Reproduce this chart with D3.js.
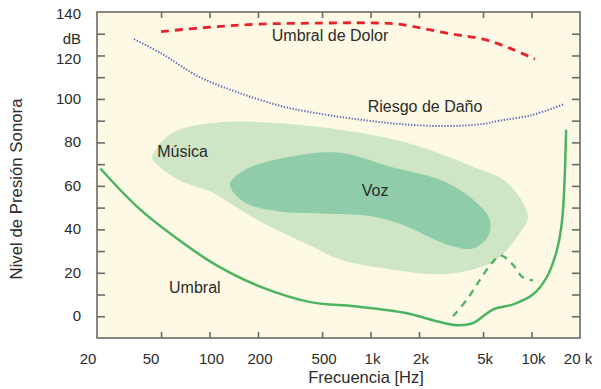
<!DOCTYPE html>
<html>
<head>
<meta charset="utf-8">
<script src="https://cdn.jsdelivr.net/npm/d3@7"></script>
<style>
  html, body { margin: 0; padding: 0; background: #ffffff; }
  svg { display: block; font-family: "Liberation Sans", Arial, sans-serif; }
</style>
</head>
<body>
<svg id="chart" width="601" height="389"></svg>
<script>
// ---- data (frequency in Hz, level in dB) ----
const xTickValues = [20, 50, 100, 200, 500, 1000, 2000, 5000, 10000, 20000];
const xTickLabels = ["20", "50", "100", "200", "500", "1k", "2k", "5k", "10k", "20 k"];
const yTickLabels = [0, 20, 40, 60, 80, 100, 120, 140];
const yMinorTicks = [0, 10, 20, 30, 40, 50, 60, 70, 80, 90, 100, 110, 120, 130];

const painFreq  = [50, 100, 200, 500, 1000, 1500, 3100, 5000, 7300, 10500];
const painDb    = [131, 133, 134.4, 134.9, 135, 134.4, 130, 127.5, 123.4, 118.3];

const riskFreq  = [34, 50, 87, 150, 286, 500, 860, 1500, 3000, 5000, 6300, 10000, 15700];
const riskDb    = [127.5, 121, 110, 103, 96.5, 93, 90.5, 88.5, 87.5, 88.5, 90, 92.5, 97.5];

const thrFreq   = [21, 36, 64, 108, 212, 432, 800, 1680, 2440, 3440, 4300, 5800, 7700, 10200, 12500, 14400, 15500, 16400];
const thrDb     = [68, 50, 35.3, 23.9, 13.3, 6.4, 4.6, 1.4, -1.8, -4.1, -3.2, 3.2, 5.5, 10, 18.3, 30.7, 44.5, 85.8];

const altFreq   = [3250, 4000, 4800, 5600, 6400, 7600, 8800, 10200];
const altDb     = [0, 8, 17, 24, 28, 24, 18, 16.5];

const musicFreq = [44, 59, 121, 248, 646, 1680, 4330, 7050, 9500, 8500, 6100, 4330, 2700, 1320, 646, 432, 212, 144, 104, 64, 46];
const musicDb   = [73.4, 84.4, 89.4, 89, 85.8, 79.8, 68.8, 61.5, 45.9, 38.5, 26.1, 21.6, 19.3, 21.6, 26.1, 32.1, 43.1, 50.5, 56.9, 62.8, 70.6];

const voiceFreq = [134, 166, 316, 646, 1320, 2700, 4330, 5500, 5370, 4330, 3100, 2340, 1680, 1040, 560, 274, 166];
const voiceDb   = [60.6, 67.4, 73.4, 75.2, 68.8, 62.8, 53.7, 44.5, 36.7, 31.2, 32.6, 36.2, 41.3, 45.9, 47.2, 48.2, 52.3];

const labels = [
  { text: "Umbral de Dolor", f: 560,  db: 128.4 },
  { text: "Riesgo de Daño",  f: 2180, db: 95.9 },
  { text: "Música",          f: 68,   db: 75.2 },
  { text: "Voz",             f: 1067, db: 57.3 },
  { text: "Umbral",          f: 81,   db: 12.8 }
];

// ---- layout ----
const pLeft = 97, pRight = 580, pTop = 12, pBottom = 338;
const svg = d3.select("#chart");

const x = d3.scaleLog().domain([20, 20000]).range([pLeft, pRight]);
const y = d3.scaleLinear().domain([-10, 140]).range([pBottom, pTop]);

svg.append("rect").attr("x", pLeft).attr("y", pTop)
  .attr("width", pRight - pLeft).attr("height", pBottom - pTop)
  .attr("fill", "#fdf9e4");

const zip = (fs, ds) => fs.map((f, i) => [f, ds[i]]);

const closedArea = d3.line().x(d => x(d[0])).y(d => y(d[1])).curve(d3.curveCatmullRomClosed.alpha(0.5));
const openLine = d3.line().x(d => x(d[0])).y(d => y(d[1])).curve(d3.curveCatmullRom.alpha(0.5));

const plot = svg.append("g");

plot.append("path").attr("d", closedArea(zip(musicFreq, musicDb)))
  .attr("fill", "#cfe6c6");
plot.append("path").attr("d", closedArea(zip(voiceFreq, voiceDb)))
  .attr("fill", "#8fcca9");

plot.append("path").attr("d", openLine(zip(painFreq, painDb)))
  .attr("fill", "none").attr("stroke", "#e8232b").attr("stroke-width", 2.8)
  .attr("stroke-dasharray", "8,6");

plot.append("path").attr("d", openLine(zip(riskFreq, riskDb)))
  .attr("fill", "none").attr("stroke", "#5566b0").attr("stroke-width", 2)
  .attr("stroke-dasharray", "1.3,1.7");

plot.append("path").attr("d", openLine(zip(thrFreq, thrDb)))
  .attr("fill", "none").attr("stroke", "#4bb462").attr("stroke-width", 2.5);

plot.append("path").attr("d", openLine(zip(altFreq, altDb)))
  .attr("fill", "none").attr("stroke", "#4bb462").attr("stroke-width", 2.3)
  .attr("stroke-dasharray", "7,6");

plot.selectAll("text.lbl").data(labels).enter().append("text")
  .attr("class", "lbl")
  .attr("x", d => x(d.f)).attr("y", d => y(d.db))
  .attr("text-anchor", "middle")
  .attr("dominant-baseline", "middle")
  .attr("font-size", 16).attr("fill", "#2b2b2b")
  .text(d => d.text);

const axisColor = "#6a6a6a";
svg.append("rect").attr("x", pLeft).attr("y", pTop)
  .attr("width", pRight - pLeft).attr("height", pBottom - pTop)
  .attr("fill", "none").attr("stroke", axisColor).attr("stroke-width", 1.6);

const innerX = xTickValues.filter(v => v > 20 && v < 20000);
const xBottom = svg.append("g").attr("transform", `translate(0,${pBottom})`)
  .call(d3.axisTop(x).tickValues(innerX).tickSize(6).tickFormat(""));
const xTopAxis = svg.append("g").attr("transform", `translate(0,${pTop})`)
  .call(d3.axisBottom(x).tickValues(innerX).tickSize(6).tickFormat(""));
const yLeft = svg.append("g").attr("transform", `translate(${pLeft},0)`)
  .call(d3.axisRight(y).tickValues(yMinorTicks).tickSize(8).tickFormat(""));
const yRight = svg.append("g").attr("transform", `translate(${pRight},0)`)
  .call(d3.axisLeft(y).tickValues(yMinorTicks).tickSize(8).tickFormat(""));
[xBottom, xTopAxis, yLeft, yRight].forEach(g => {
  g.select(".domain").remove();
  g.selectAll(".tick line").attr("stroke", axisColor).attr("stroke-width", 1.6);
});

const xLabelPos = { 20: 88, 50: 151 };
svg.append("g").selectAll("text").data(xTickValues).enter().append("text")
  .attr("x", (d) => xLabelPos[d] !== undefined ? xLabelPos[d] : x(d) + (d === 20000 ? -2 : 2))
  .attr("y", 360)
  .attr("text-anchor", "middle").attr("dominant-baseline", "middle")
  .attr("font-size", 15).attr("fill", "#2b2b2b")
  .text((d, i) => xTickLabels[i]);

svg.append("g").selectAll("text").data(yTickLabels).enter().append("text")
  .attr("x", 81)
  .attr("y", d => y(d) + (d === 140 ? 3 : d === 120 ? 5 : 1))
  .attr("text-anchor", "end").attr("dominant-baseline", "middle")
  .attr("font-size", 15).attr("fill", "#2b2b2b")
  .text(d => d);

svg.append("text").attr("x", 81).attr("y", y(130) + 6)
  .attr("text-anchor", "end").attr("dominant-baseline", "middle")
  .attr("font-size", 15).attr("fill", "#2b2b2b").text("dB");

svg.append("text").attr("x", 366).attr("y", 379)
  .attr("text-anchor", "middle").attr("dominant-baseline", "middle")
  .attr("font-size", 16.5).attr("fill", "#2b2b2b").text("Frecuencia [Hz]");

svg.append("text").attr("transform", "translate(18,189) rotate(-90)")
  .attr("text-anchor", "middle").attr("dominant-baseline", "middle")
  .attr("font-size", 16.8).attr("fill", "#2b2b2b").text("Nivel de Presión Sonora");
</script>
</body>
</html>
